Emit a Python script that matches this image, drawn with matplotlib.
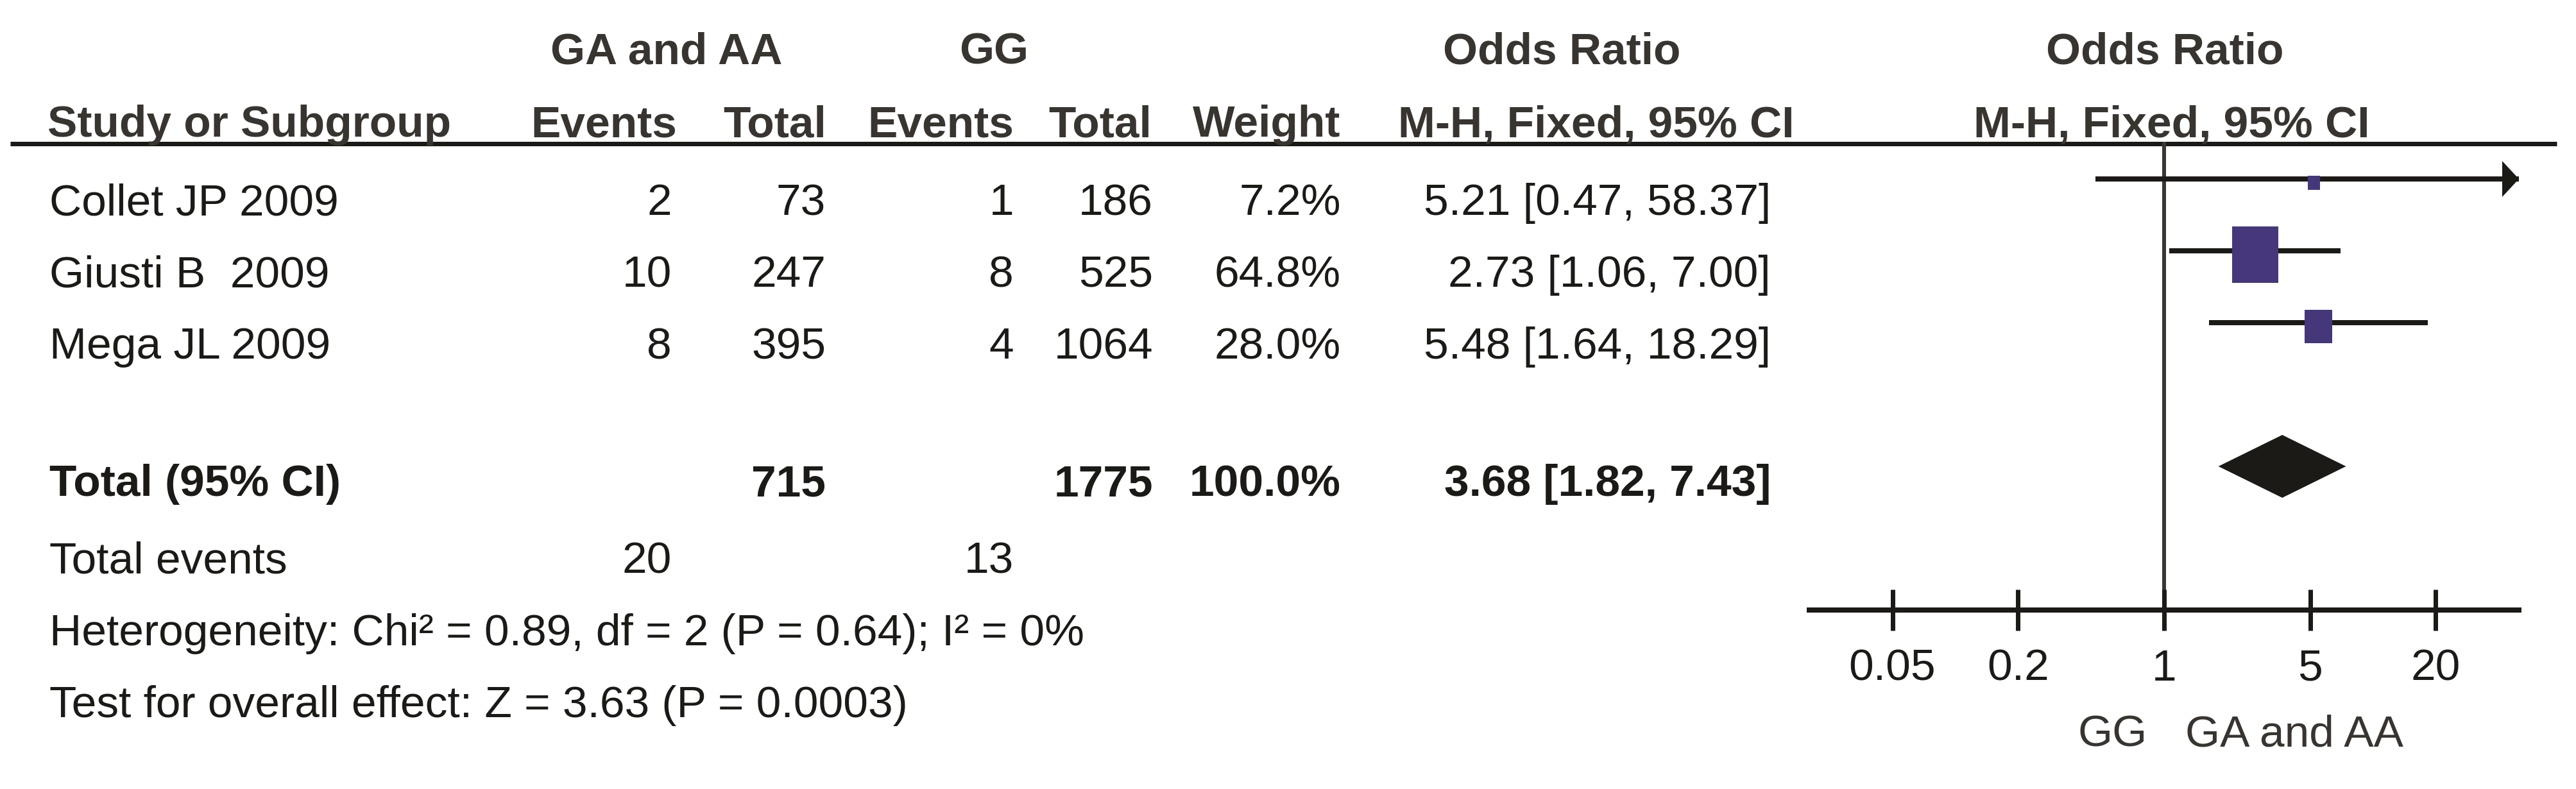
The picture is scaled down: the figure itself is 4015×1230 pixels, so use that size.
import matplotlib
matplotlib.use('Agg')
import numpy as np
import matplotlib.pyplot as plt
from matplotlib import font_manager
from matplotlib.patches import Rectangle, Polygon
from matplotlib.ticker import NullLocator

# data
studies = ['Collet JP 2009', 'Giusti B  2009', 'Mega JL 2009']
events_a = [2, 10, 8]
total_a = [73, 247, 395]
events_g = [1, 8, 4]
total_g = [186, 525, 1064]
weights = [7.2, 64.8, 28.0]
or_est = [5.21, 2.73, 5.48]
ci_low = [0.47, 1.06, 1.64]
ci_high = [58.37, 7.00, 18.29]

pooled = [3.68, 1.82, 7.43]
pooled_totals = [715, 1775]
pooled_events = [20, 13]
heterogeneity = 'Heterogeneity: Chi² = 0.89, df = 2 (P = 0.64); I² = 0%'
overall = 'Test for overall effect: Z = 3.63 (P = 0.0003)'

tick_vals = [0.05, 0.2, 1, 5, 20]
tick_labels = ['0.05', '0.2', '1', '5', '20']
favours = ['GG', 'GA and AA']

# fonts: the original uses a narrow Arial; use a narrow face if there is one,
# otherwise shrink Liberation Sans so the widths still line up
names = {f.name for f in font_manager.fontManager.ttflist}
FONT = 'Liberation Sans Narrow' if 'Liberation Sans Narrow' in names else 'Liberation Sans'
plt.rcParams['font.family'] = [FONT, 'DejaVu Sans']
DARK = '#1c1a17'
GREY = '#383430'
PURPLE = '#46377b'
PX = 0.72  # points per pixel at dpi 100

W, H = 4016, 1230
fig = plt.figure(figsize=(W / 100, H / 100), dpi=100)

# text layer in pixel coordinates
tx = fig.add_axes([0, 0, 1, 1])
tx.set_xlim(0, W)
tx.set_ylim(H, 0)
tx.axis('off')

renderer = fig.canvas.get_renderer()
probe = tx.text(0, 0, 'Study or Subgroup', fontsize=61, fontweight='bold')
FS = 61 * 629 / probe.get_window_extent(renderer).width
probe.remove()
# smaller glyphs sit a little higher so the rows keep their visual centre
LIFT = 4 if FONT == 'Liberation Sans' else 0


def put(x, y, s, ha='left', bold=False, color=DARK):
    tx.text(x, y - LIFT, s, ha=ha, va='baseline', fontsize=FS,
            fontweight='bold' if bold else 'normal', color=color)


# headers
put(1039, 103, 'GA and AA', ha='center', bold=True, color=GREY)
put(1549, 103, 'GG', ha='center', bold=True, color=GREY)
put(2434, 103, 'Odds Ratio', ha='center', bold=True, color=GREY)
put(3374, 103, 'Odds Ratio', ha='center', bold=True, color=GREY)
put(74, 217, 'Study or Subgroup', bold=True, color=GREY)
put(1055, 217, 'Events', ha='right', bold=True, color=GREY)
put(1288, 217, 'Total', ha='right', bold=True, color=GREY)
put(1580, 217, 'Events', ha='right', bold=True, color=GREY)
put(1795, 217, 'Total', ha='right', bold=True, color=GREY)
put(2089, 217, 'Weight', ha='right', bold=True, color=GREY)
put(2797, 217, 'M-H, Fixed, 95% CI', ha='right', bold=True, color=GREY)
put(3385, 217, 'M-H, Fixed, 95% CI', ha='center', bold=True, color=GREY)
tx.plot([16, 3985], [224, 224], color=DARK, lw=7 * PX, solid_capstyle='butt')

# column right edges
cols = [1047, 1287, 1580, 1797, 2090, 2760]
row_base = [339, 451, 563]
for i, name in enumerate(studies):
    y = row_base[i]
    put(77, y, name)
    put(cols[0], y, str(events_a[i]), ha='right')
    put(cols[1], y, str(total_a[i]), ha='right')
    put(cols[2], y, str(events_g[i]), ha='right')
    put(cols[3], y, str(total_g[i]), ha='right')
    put(cols[4], y, f'{weights[i]:.1f}%', ha='right')
    put(cols[5], y, f'{or_est[i]:.2f} [{ci_low[i]:.2f}, {ci_high[i]:.2f}]', ha='right')

total_y = 777
put(77, total_y, 'Total (95% CI)', bold=True)
put(cols[1], total_y, str(pooled_totals[0]), ha='right', bold=True)
put(cols[3], total_y, str(pooled_totals[1]), ha='right', bold=True)
put(cols[4], total_y, f'{sum(weights):.1f}%', ha='right', bold=True)
put(cols[5], total_y, f'{pooled[0]:.2f} [{pooled[1]:.2f}, {pooled[2]:.2f}]', ha='right', bold=True)

put(77, 898, 'Total events')
put(cols[0], 898, str(pooled_events[0]), ha='right')
put(cols[2], 898, str(pooled_events[1]), ha='right')
put(77, 1010, heterogeneity)
put(77, 1122, overall)

# forest panel
X0, X1 = 0.02, 50
left_px, right_px = 2820, 3926
ax = fig.add_axes([left_px / W, 0, (right_px - left_px) / W, 1])
ax.set_xscale('log')
ax.set_xlim(X0, X1)
ax.set_ylim(H, 0)
ax.patch.set_visible(False)
for s in ['top', 'left', 'right']:
    ax.spines[s].set_visible(False)
ax.spines['bottom'].set_position(('data', 951))
ax.spines['bottom'].set_linewidth(8 * PX)
ax.spines['bottom'].set_color(DARK)
ax.set_xticks(tick_vals, labels=tick_labels)
ax.xaxis.set_minor_locator(NullLocator())
ax.tick_params(axis='x', direction='inout', length=64 * PX, width=7 * PX,
               pad=20, labelsize=FS, color=DARK, labelcolor=DARK)
ax.set_yticks([])

ppd = (right_px - left_px) / np.log10(X1 / X0)  # pixels per decade

ax.plot([1, 1], [224, 951], color='#3a3633', lw=6 * PX, zorder=1)

for i in range(len(studies)):
    yl = row_base[i] - 60
    hi = min(ci_high[i], X1)
    ax.plot([ci_low[i], hi], [yl, yl], color=DARK, lw=8 * PX,
            solid_capstyle='butt', zorder=2)
    if ci_high[i] > X1:
        base = X1 / 10 ** (26 / ppd)
        ax.add_patch(Polygon([(base, yl - 28), (X1, yl), (base, yl + 28)],
                             closed=True, color=DARK, lw=0, zorder=2))
    w = 5.67 * weights[i] ** 0.612
    h = 1.2 * w
    x0 = or_est[i] / 10 ** (w / 2 / ppd)
    x1 = or_est[i] * 10 ** (w / 2 / ppd)
    ax.add_patch(Rectangle((x0, yl + 6 - h / 2), x1 - x0, h,
                           facecolor=PURPLE, edgecolor='none', zorder=3))

yc = total_y - 50
ax.add_patch(Polygon([(pooled[1], yc), (pooled[0], yc - 49),
                      (pooled[2], yc), (pooled[0], yc + 49)],
                     closed=True, facecolor=DARK, edgecolor='none', zorder=3))

put(3347, 1168, favours[0], ha='right', color=GREY)
put(3406, 1168, favours[1], ha='left', color=GREY)

fig.savefig('out.png', dpi=100)
